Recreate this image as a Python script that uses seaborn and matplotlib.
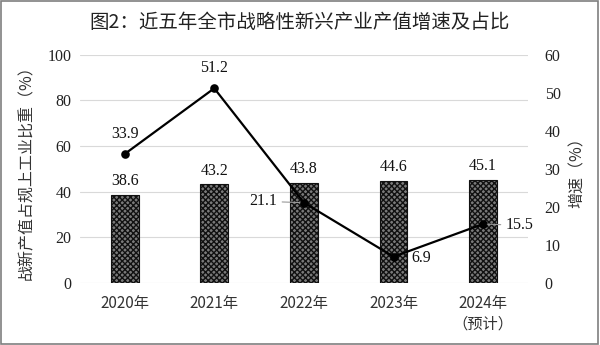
import matplotlib
matplotlib.use("Agg")
import matplotlib.pyplot as plt
import seaborn as sns
import pandas as pd
from matplotlib.patches import Rectangle

years = ["2020年", "2021年", "2022年", "2023年", "2024年\n（预计）"]
share = [38.6, 43.2, 43.8, 44.6, 45.1]
growth = [33.9, 51.2, 21.1, 6.9, 15.5]

sns.set_theme(style="white")
plt.rcParams['font.family'] = ['Liberation Serif', 'Noto Sans CJK SC']
plt.rcParams['hatch.color'] = '#111111'
plt.rcParams['hatch.linewidth'] = 1.0

df = pd.DataFrame({"year": years, "share": share, "growth": growth})

fig = plt.figure(figsize=(6, 3.45), dpi=100)
ax = fig.add_axes([0.133, 0.180, 0.747, 0.661])

sns.barplot(data=df, x="year", y="share", ax=ax, color="#7a7a7a", width=0.31,
            edgecolor="#111111", linewidth=0.8, saturation=1)
for p in ax.patches:
    p.set_hatch("xxxxxx")

ax.set_ylim(0, 100)
ax.set_yticks(range(0, 101, 20))
ax.grid(axis="y", color="#d9d9d9", linewidth=0.8)
ax.set_axisbelow(True)
for s in ax.spines.values():
    s.set_visible(False)
ax.tick_params(axis="y", length=0, labelsize=11.5, colors="#222222", pad=6)
ax.tick_params(axis="x", length=0, labelsize=11, colors="#333333", pad=9)
ax.set_xlabel("")
ax.set_ylabel("战新产值占规上工业比重（%）", fontsize=11.5, color="#333333",
              family=['Noto Sans CJK SC'], labelpad=9)
for lbl in ax.get_xticklabels():
    lbl.set_family(['Noto Sans CJK SC'])
    lbl.set_fontsize(11)
    lbl.set_linespacing(1.25)

for i, v in enumerate(share):
    ax.text(i, v + 2.5, f"{v:.1f}", ha="center", va="bottom", fontsize=11.5, color="#111111")

ax2 = ax.twinx()
sns.pointplot(data=df, x="year", y="growth", ax=ax2, color="black",
              markers="o", markersize=5, linewidth=1.6)
ax2.set_ylim(0, 60)
ax2.set_yticks(range(0, 61, 10))
for s in ax2.spines.values():
    s.set_visible(False)
ax2.grid(False)
ax2.tick_params(axis="y", length=0, labelsize=11.5, colors="#222222", pad=12)
ax2.set_ylabel("增速（%）", fontsize=11.5, color="#333333",
               family=['Noto Sans CJK SC'], labelpad=6)
ax2.set_xlabel("")
ax.set_xlim(-0.5, 4.5)
ax2.set_xlim(-0.5, 4.5)

# growth labels
ax2.annotate(f"{growth[0]:.1f}", (0, growth[0]), xytext=(0, 9), textcoords="offset points",
             ha="center", va="bottom", fontsize=11.5, color="#111111")
ax2.annotate(f"{growth[1]:.1f}", (1, growth[1]), xytext=(0, 9), textcoords="offset points",
             ha="center", va="bottom", fontsize=11.5, color="#111111")
ax2.annotate(f"{growth[2]:.1f}", (2, growth[2]), xytext=(-19, 1), textcoords="offset points",
             ha="right", va="center", fontsize=11.5, color="#111111",
             arrowprops=dict(arrowstyle="-", color="#999999", lw=0.8, shrinkA=1, shrinkB=3))
ax2.annotate(f"{growth[3]:.1f}", (3, growth[3]), xytext=(13, -1), textcoords="offset points",
             ha="left", va="center", fontsize=11.5, color="#111111")
ax2.annotate(f"{growth[4]:.1f}", (4, growth[4]), xytext=(16, -1), textcoords="offset points",
             ha="left", va="center", fontsize=11.5, color="#111111",
             arrowprops=dict(arrowstyle="-", color="#999999", lw=0.8, shrinkA=1, shrinkB=3))

fig.text(0.5, 0.935, "图2：近五年全市战略性新兴产业产值增速及占比", ha="center", va="center",
         fontsize=14, color="#222222", family=['Noto Sans CJK SC'])

fig.patches.append(Rectangle((0.002, 0.003), 0.995, 0.993, transform=fig.transFigure,
                             fill=False, edgecolor="#7f7f7f", linewidth=1.2))

fig.savefig("out.png", dpi=100)
